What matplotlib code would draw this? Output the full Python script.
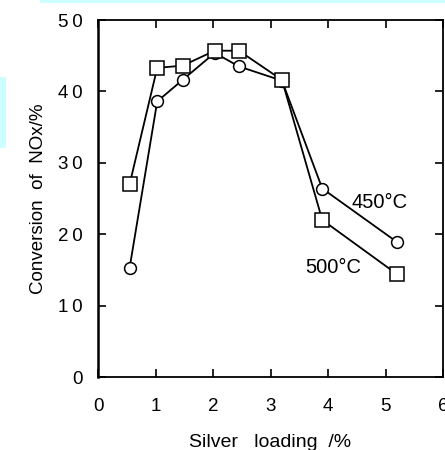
import matplotlib
matplotlib.use("Agg")
import matplotlib.pyplot as plt
from matplotlib.patches import Rectangle

plt.rcParams['font.family'] = ['Liberation Sans', 'DejaVu Sans']

# silver loading (%) and NOx conversion (%)
load_450 = [0.55, 1.03, 1.47, 2.03, 2.45, 3.2, 3.9, 5.2]
conv_450 = [15.3, 38.6, 41.6, 45.4, 43.5, 41.5, 26.4, 18.9]
load_500 = [0.55, 1.03, 1.47, 2.03, 2.45, 3.2, 3.9, 5.2]
conv_500 = [27.0, 43.3, 43.6, 45.7, 45.7, 41.6, 22.0, 14.4]

xticks = [0, 1, 2, 3, 4, 5, 6]
yticks = [0, 10, 20, 30, 40, 50]

fig = plt.figure(figsize=(4.45, 4.5), dpi=100)
ax = fig.add_axes([98/445, 73/450, 345/445, 357/450])

ax.plot(load_450, conv_450, '-o', color='black', lw=1.3, ms=8.5,
        mfc='white', mec='black', mew=1.1, zorder=3)
ax.plot(load_500, conv_500, '-s', color='black', lw=1.3, ms=9.5,
        mfc='white', mec='black', mew=1.1, zorder=4)

ax.text(4.9, 24.5, "450°C", fontsize=14.5, ha='center', va='center')
ax.text(4.09, 15.4, "500°C", fontsize=14.5, ha='center', va='center')

ax.set_xlim(0, 6)
ax.set_ylim(0, 50)
ax.set_xticks(xticks)
ax.set_yticks(yticks)
ax.set_yticklabels(['\u2009'.join(str(v)) for v in yticks])
ax.tick_params(direction='in', length=6, width=1.2, labelsize=13.5,
               top=True, right=True)
ax.tick_params(axis='y', pad=11)
ax.tick_params(axis='x', pad=15)
for s in ax.spines.values():
    s.set_linewidth(1.3)
ax.spines['left'].set_linewidth(1.8)

ax.set_ylabel("Conversion  of  NOx/%", fontsize=13.5, labelpad=8)
ax.set_xlabel("Silver   loading  /%", fontsize=14, labelpad=14)

# pale cyan strips along the top and left edges
fig.patches.append(Rectangle((40/445, 447/450), 405/445, 3/450,
                             transform=fig.transFigure, color='#ccffff', lw=0))
fig.patches.append(Rectangle((0, 302/450), 6/445, 71/450,
                             transform=fig.transFigure, color='#ccffff', lw=0))

fig.savefig("out.png", dpi=100)
